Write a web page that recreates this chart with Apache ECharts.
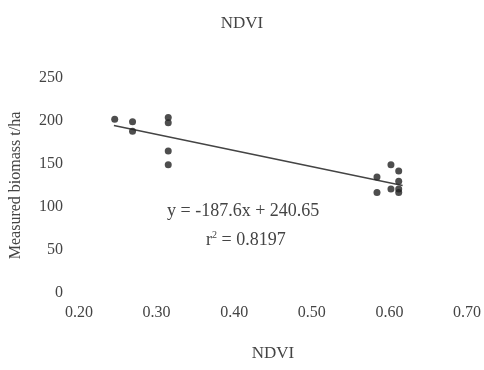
<!DOCTYPE html>
<html><head><meta charset="utf-8">
<script src="https://cdn.jsdelivr.net/npm/echarts@6/dist/echarts.min.js"></script>
<style>html,body{margin:0;padding:0;background:#fff}#c{width:484px;height:370px}</style>
</head><body><div id="c"></div>
<script>
var ndvi = [0.246, 0.269, 0.269, 0.315, 0.315, 0.315, 0.315, 0.584, 0.584, 0.602, 0.602, 0.612, 0.612, 0.612, 0.612];
var biomass = [202, 199, 188, 204, 198, 165, 149, 135, 117, 149, 121, 142, 130, 121, 117];
var trendX = [0.245, 0.617];
var trendY = [194.7, 125.0];
var xTicks = ['0.20', '0.30', '0.40', '0.50', '0.60', '0.70'];
var yTicks = ['0', '50', '100', '150', '200', '250'];
var eqText = 'y = -187.6x + 240.65';
var r2Value = '0.8197';

var font = 'Liberation Serif';
var pts = ndvi.map(function (v, i) { return [v, biomass[i]]; });
var trend = trendX.map(function (v, i) { return [v, trendY[i]]; });

var chart = echarts.init(document.getElementById('c'));
chart.setOption({
  animation: false,
  backgroundColor: '#fff',
  title: {
    text: 'NDVI', left: 'center', top: 10,
    textStyle: { fontFamily: font, fontSize: 17, fontWeight: 'normal', color: '#444' }
  },
  grid: { left: 79, right: 17, top: 78, bottom: 77 },
  xAxis: {
    type: 'value', min: 0.2, max: 0.7, interval: 0.1,
    name: 'NDVI', nameLocation: 'middle', nameGap: 52,
    nameTextStyle: { fontFamily: font, fontSize: 17, color: '#444' },
    axisLine: { show: false }, axisTick: { show: false }, splitLine: { show: false },
    axisLabel: {
      margin: 12, fontFamily: font, fontSize: 16, color: '#444',
      formatter: function (v) { return xTicks[Math.round((v - 0.2) / 0.1)]; }
    }
  },
  yAxis: {
    type: 'value', min: 0, max: 250, interval: 50,
    name: 'Measured biomass t/ha', nameLocation: 'middle', nameGap: 55, nameRotate: 90,
    nameTextStyle: { fontFamily: font, fontSize: 16, color: '#444' },
    axisLine: { show: false }, axisTick: { show: false }, splitLine: { show: false },
    axisLabel: {
      margin: 16, fontFamily: font, fontSize: 16, color: '#444',
      formatter: function (v) { return yTicks[Math.round(v / 50)]; }
    }
  },
  series: [
    {
      type: 'scatter', data: pts, symbolSize: 7,
      itemStyle: { color: '#222' }, z: 3
    },
    {
      type: 'line', data: trend, showSymbol: false, symbol: 'none',
      lineStyle: { color: '#444', width: 1.5 }, z: 2
    }
  ],
  graphic: [
    {
      type: 'text', left: 167, top: 202,
      style: { text: eqText, font: '18px "Liberation Serif"', fill: '#444' }
    },
    {
      type: 'text', left: 206, top: 230,
      style: {
        text: '{b|r}{s|2}{b| = ' + r2Value + '}',
        fill: '#444',
        rich: {
          b: { fontFamily: font, fontSize: 18, fill: '#444' },
          s: { fontFamily: font, fontSize: 10, fill: '#444', verticalAlign: 'top', padding: [0, 0, 10, 0] }
        }
      }
    }
  ]
});
</script></body></html>
